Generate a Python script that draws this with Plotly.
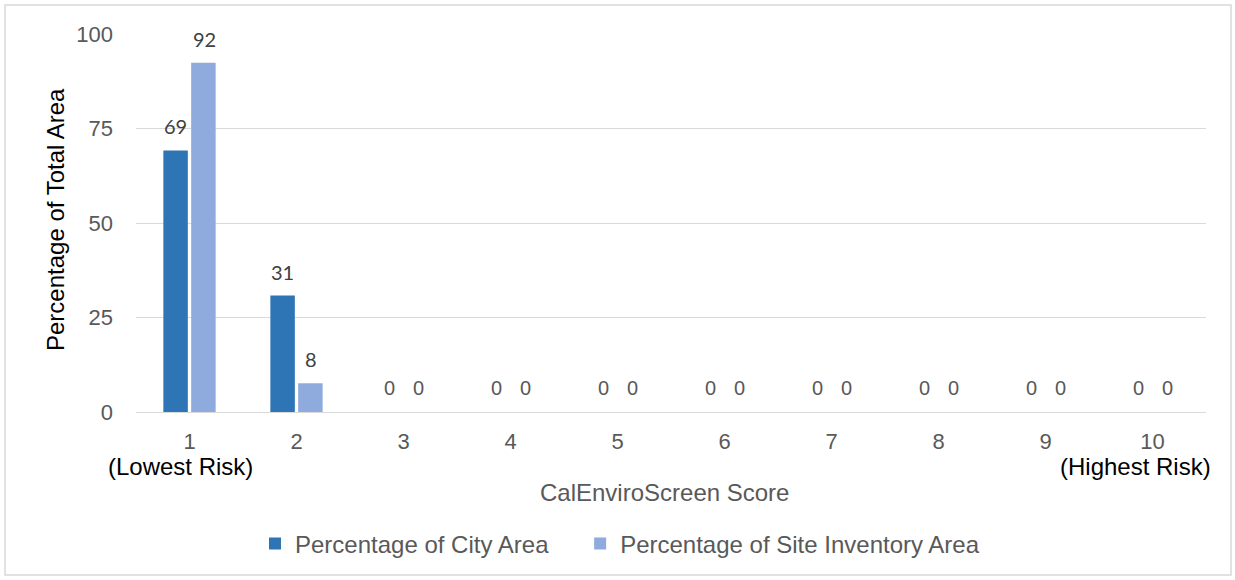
import plotly.graph_objects as go

categories = ["1", "2", "3", "4", "5", "6", "7", "8", "9", "10"]
city_area = [69.2, 30.8, 0, 0, 0, 0, 0, 0, 0, 0]
site_area = [92.4, 7.6, 0, 0, 0, 0, 0, 0, 0, 0]
series_names = ["Percentage of City Area", "Percentage of Site Inventory Area"]
y_ticks = [0, 25, 50, 75, 100]
end_labels = ["(Lowest Risk)", "(Highest Risk)"]

W, H = 1235, 580
L, R, T, B = 136, 29, 34, 168
pw, ph = W - L - R, H - T - B

def px(x):
    return (x - L) / pw

def py(y):
    return (H - B - y) / ph

dark = "#2E75B6"
light = "#8FAADC"
gray = "#595959"
pad = "\u00a0" * 4

fig = go.Figure()
fig.add_trace(go.Bar(x=categories, y=city_area, name=series_names[0] + pad,
                     marker=dict(color=dark, line=dict(width=0))))
fig.add_trace(go.Bar(x=categories, y=site_area, name=series_names[1],
                     marker=dict(color=light, line=dict(width=0))))

ann = []
for vals, shift in ((city_area, -14.5), (site_area, 14.5)):
    for i, v in enumerate(vals):
        nz = v >= 0.5
        ann.append(dict(x=i, y=v, xref="x", yref="y", text=f"{v:.0f}",
                        showarrow=False, xshift=shift, yshift=24,
                        xanchor="center", yanchor="middle",
                        font=dict(family="Lato" if nz else "Liberation Sans",
                                  size=20, color="#404040" if nz else gray)))

ann.append(dict(x=0, y=0, xref="x", yref="y", text=end_labels[0],
                showarrow=False, xshift=-9, yshift=-54, xanchor="center", yanchor="middle",
                font=dict(family="Liberation Sans", size=24, color="#000000")))
ann.append(dict(x=len(categories) - 1, y=0, xref="x", yref="y", text=end_labels[1],
                showarrow=False, xshift=-17, yshift=-54, xanchor="center", yanchor="middle",
                font=dict(family="Liberation Sans", size=24, color="#000000")))
ann.append(dict(x=px(664), y=py(492), xref="paper", yref="paper", text="CalEnviroScreen Score",
                showarrow=False, xanchor="center", yanchor="middle",
                font=dict(family="Liberation Sans", size=24, color=gray)))
ann.append(dict(x=px(55), y=py(220), xref="paper", yref="paper", text="Percentage of Total Area",
                showarrow=False, textangle=-90, xanchor="center", yanchor="middle",
                font=dict(family="Liberation Sans", size=24, color="#000000")))

fig.update_layout(
    width=W, height=H,
    margin=dict(l=L, r=R, t=T, b=B, pad=0, autoexpand=False),
    paper_bgcolor="white", plot_bgcolor="white",
    barmode="group", bargap=0.48, bargroupgap=0.12,
    font=dict(family="Liberation Sans", size=22, color=gray),
    showlegend=True,
    legend=dict(orientation="h", x=px(255), xanchor="left", y=py(544), yanchor="middle",
                font=dict(family="Liberation Sans", size=24, color=gray),
                traceorder="normal"),
    annotations=ann,
    shapes=[dict(type="rect", xref="paper", yref="paper",
                 x0=px(5), x1=px(1231), y0=py(575), y1=py(5),
                 line=dict(color="#D9D9D9", width=1.5), fillcolor="rgba(0,0,0,0)")],
)
fig.update_xaxes(type="category", range=[-0.5, len(categories) - 0.5], automargin=False,
                 showgrid=False, showline=False, zeroline=False,
                 ticks="", ticklabelstandoff=14,
                 tickfont=dict(family="Liberation Sans", size=22, color=gray))
fig.update_yaxes(range=[0, 100], tickvals=y_ticks, automargin=False,
                 showgrid=True, gridcolor="#D9D9D9",
                 gridwidth=1.3, zeroline=True, zerolinecolor="#D9D9D9", zerolinewidth=1.3,
                 showline=False, ticks="", ticklabelstandoff=22,
                 tickfont=dict(family="Liberation Sans", size=22, color=gray))

fig.write_html("out.html", config={"displayModeBar": False},
               post_script="document.body.style.margin='0';")
